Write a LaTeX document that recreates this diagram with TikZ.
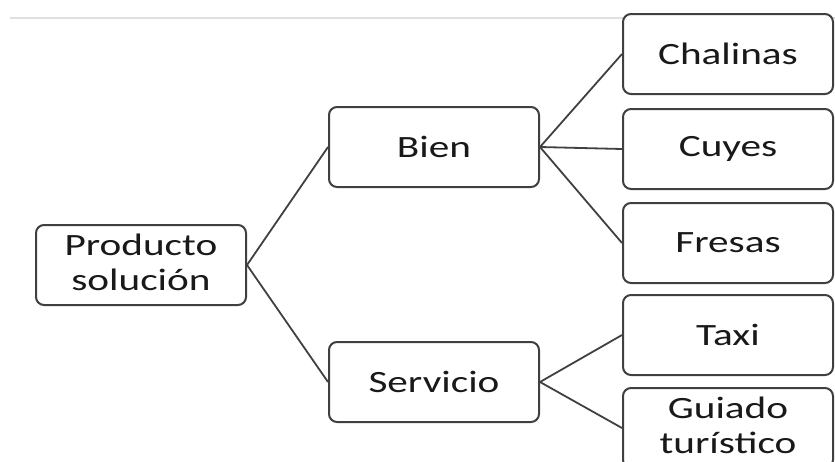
\documentclass[tikz,border=0pt]{standalone}
\usepackage{fontspec}
\setmainfont{Carlito}[FakeStretch=1.33]
\usetikzlibrary{positioning}

% depth for two-line labels
\newcommand{\lowline}{\rule[-5pt]{0pt}{0pt}}

\begin{document}
\begin{tikzpicture}[
    x=1pt, y=-1pt,
    % Box style
    itembox/.style={
        rectangle,
        rounded corners=8pt,
        draw=black!75,
        line width=2pt,
        fill=white,
        minimum width=210pt,
        minimum height=80pt,
        inner sep=0pt,
        align=center,
        text=black!90,
        font=\fontsize{31}{35}\selectfont
    },
    % Connector style
    link/.style={
        draw=black!75,
        line width=1.8pt
    }
]
\useasboundingbox (0,0) rectangle (835,461);
\clip (0,0) rectangle (835,461);

% === Top edge ===
\draw[black!12, line width=1.5pt] (10,18) -- (835,18);

% === Root ===
\node[itembox] (prod) at (141, 265) {Producto\\solución\lowline};

% === Level 1 ===
\node[itembox] (bien) at (434, 147) {Bien};
\node[itembox] (serv) at (434, 382) {Servicio};

% === Level 2 ===
\node[itembox] (chal) at (728, 54) {Chalinas};
\node[itembox] (cuyes) at (728, 149) {Cuyes};
\node[itembox] (fresas) at (728, 243) {Fresas};
\node[itembox] (taxi) at (728, 335) {Taxi};
\node[itembox] (guia) at (728, 428) {Guiado\\turístico\lowline};

% === Connectors ===
\draw[link] (prod.east) -- (bien.west);
\draw[link] (prod.east) -- (serv.west);
\draw[link] (bien.east) -- (chal.west);
\draw[link] (bien.east) -- (cuyes.west);
\draw[link] (bien.east) -- (fresas.west);
\draw[link] (serv.east) -- (taxi.west);
\draw[link] (serv.east) -- (guia.west);

\end{tikzpicture}
\end{document}
